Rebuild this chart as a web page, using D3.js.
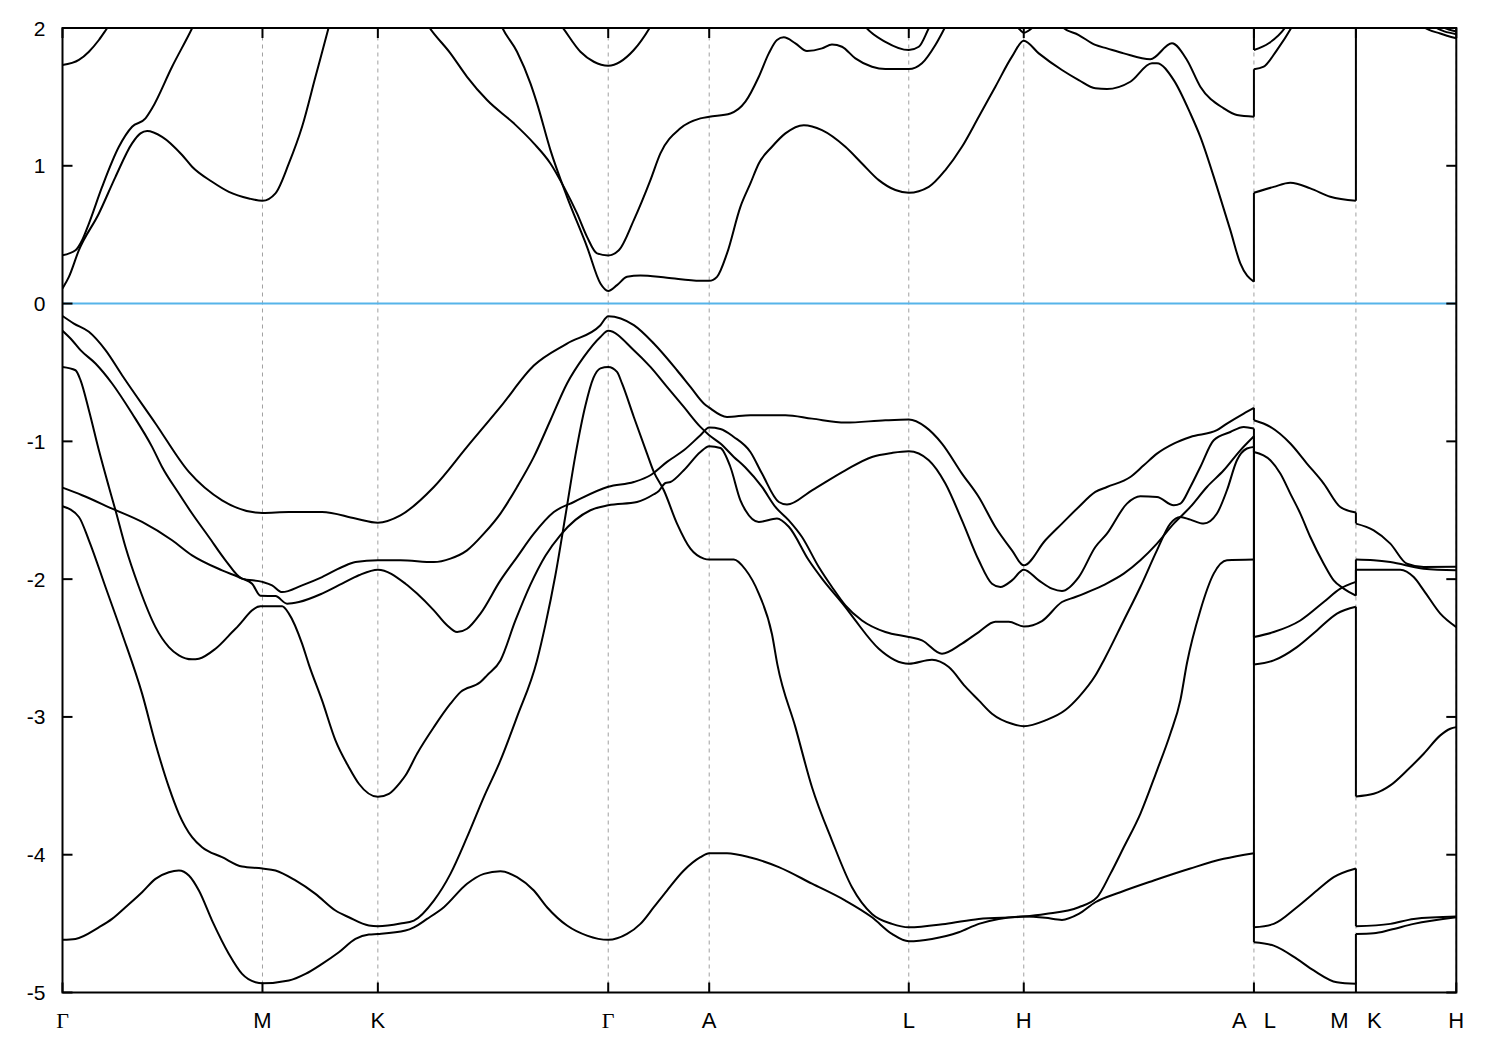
<!DOCTYPE html>
<html>
<head>
<meta charset="utf-8">
<script src="https://cdn.jsdelivr.net/npm/d3@7/dist/d3.min.js"></script>
<style>
  html, body { margin: 0; padding: 0; background: #fff; }
  svg { display: block; }
</style>
</head>
<body>
<script>
// ---------- DATA ----------
// high-symmetry k positions along the path and their labels
const kTicks  = [0, 1.0, 1.577, 2.729, 3.234, 4.232, 4.807, 5.958, 6.468, 6.97];
const kLabels = ["Γ", "M", "K", "Γ", "A", "L", "H", "A   L", "M   K", "H"];
const eTicks  = [-5, -4, -3, -2, -1, 0, 1, 2];
const fermiLevel = 0;

// bands: [k, E(eV)]; repeated k marks a path discontinuity (A|L, M|K)
const band1 = [[0,-0.09],[0.057,-0.145],[0.132,-0.205],[0.215,-0.338],[0.298,-0.52],[0.465,-0.87],[0.632,-1.222],[0.798,-1.428],[0.965,-1.517],[1.0,-1.52],[1.132,-1.513],[1.298,-1.513],[1.465,-1.56],[1.577,-1.59],[1.69,-1.537],[1.857,-1.331],[2.023,-1.04],[2.19,-0.75],[2.357,-0.45],[2.523,-0.29],[2.69,-0.157],[2.729,-0.092],
  [2.857,-0.157],[2.957,-0.29],[3.073,-0.484],[3.14,-0.605],[3.207,-0.725],[3.234,-0.755],[3.323,-0.823],[3.44,-0.81],[3.615,-0.81],[3.748,-0.835],[3.915,-0.864],[4.115,-0.847],[4.232,-0.842],[4.315,-0.895],[4.398,-1.016],[4.498,-1.234],[4.582,-1.404],[4.665,-1.622],[4.748,-1.791],[4.807,-1.90],[4.915,-1.718],[4.998,-1.597],[5.082,-1.476],[5.165,-1.367],[5.223,-1.331],[5.34,-1.259],[5.407,-1.174],[5.473,-1.089],[5.557,-1.016],[5.64,-0.968],[5.773,-0.919],[5.823,-0.871],[5.907,-0.798],[5.958,-0.757],
  [5.958,-0.847],[6.04,-0.895],[6.14,-1.016],[6.223,-1.161],[6.307,-1.306],[6.39,-1.476],[6.468,-1.517],
  [6.468,-1.597],[6.557,-1.646],[6.64,-1.742],[6.723,-1.888],[6.807,-1.912],[6.97,-1.91]];

const band2 = [[0,-0.198],[0.048,-0.266],[0.09,-0.338],[0.165,-0.435],[0.248,-0.58],[0.348,-0.798],[0.448,-1.04],[0.498,-1.186],[0.582,-1.379],[0.648,-1.524],[0.732,-1.694],[0.815,-1.863],[0.898,-1.996],[1.0,-2.02],[1.048,-2.045],[1.098,-2.094],[1.198,-2.045],[1.298,-1.985],[1.398,-1.912],[1.465,-1.876],[1.577,-1.863],[1.69,-1.863],[1.857,-1.876],[1.94,-1.851],[2.023,-1.791],[2.107,-1.67],[2.19,-1.524],[2.273,-1.331],[2.357,-1.113],[2.44,-0.847],[2.523,-0.58],[2.607,-0.387],[2.69,-0.242],[2.729,-0.198],
  [2.857,-0.338],[2.94,-0.46],[3.023,-0.605],[3.107,-0.75],[3.19,-0.895],[3.234,-0.955],[3.29,-1.016],[3.357,-1.113],[3.415,-1.19],[3.498,-1.331],[3.565,-1.476],[3.632,-1.573],[3.698,-1.694],[3.782,-1.912],[3.848,-2.057],[3.915,-2.19],[3.998,-2.30],[4.115,-2.384],[4.232,-2.42],[4.298,-2.444],[4.398,-2.541],[4.498,-2.468],[4.582,-2.384],[4.665,-2.31],[4.732,-2.31],[4.807,-2.343],[4.898,-2.304],[4.998,-2.166],[5.065,-2.13],[5.165,-2.07],[5.223,-2.03],[5.307,-1.96],[5.39,-1.863],[5.473,-1.742],[5.557,-1.597],[5.64,-1.476],[5.723,-1.331],[5.807,-1.21],[5.89,-1.065],[5.958,-0.963],
  [5.958,-2.42],[6.057,-2.384],[6.19,-2.30],[6.307,-2.166],[6.39,-2.069],[6.468,-2.02],
  [6.468,-1.858],[6.557,-1.863],[6.64,-1.876],[6.807,-1.924],[6.97,-1.936]];

const band3 = [[0,-1.336],[0.098,-1.391],[0.248,-1.488],[0.398,-1.585],[0.548,-1.718],[0.648,-1.827],[0.798,-1.936],[0.898,-1.996],[0.948,-2.033],[0.99,-2.12],[1.065,-2.123],[1.123,-2.178],[1.182,-2.166],[1.298,-2.105],[1.398,-2.033],[1.482,-1.972],[1.577,-1.931],[1.715,-2.033],[1.773,-2.105],[1.857,-2.227],[1.923,-2.335],[1.973,-2.384],[2.023,-2.36],[2.09,-2.25],[2.19,-2.009],[2.273,-1.84],[2.357,-1.67],[2.457,-1.513],[2.557,-1.44],[2.729,-1.33],
  [2.857,-1.295],[2.94,-1.246],[3.023,-1.149],[3.107,-1.065],[3.19,-0.956],[3.234,-0.90],[3.29,-0.91],[3.357,-0.968],[3.44,-1.077],[3.498,-1.234],[3.582,-1.44],[3.623,-1.459],[3.748,-1.355],[3.915,-1.21],[4.048,-1.113],[4.148,-1.084],[4.232,-1.072],[4.332,-1.137],[4.415,-1.306],[4.498,-1.573],[4.582,-1.863],[4.648,-2.033],[4.69,-2.057],[4.748,-2.009],[4.807,-1.931],[4.882,-2.009],[4.948,-2.069],[4.998,-2.086],[5.082,-1.985],[5.165,-1.767],[5.223,-1.67],[5.323,-1.452],[5.39,-1.399],[5.473,-1.404],[5.557,-1.464],[5.59,-1.452],[5.64,-1.331],[5.69,-1.186],[5.757,-0.992],[5.84,-0.932],[5.907,-0.895],[5.958,-0.907],
  [5.958,-1.077],[6.04,-1.137],[6.09,-1.234],[6.14,-1.379],[6.19,-1.524],[6.24,-1.694],[6.307,-1.888],[6.357,-2.009],[6.407,-2.069],[6.468,-2.12],
  [6.468,-1.931],[6.557,-1.931],[6.69,-1.931],[6.757,-1.985],[6.807,-2.081],[6.89,-2.25],[6.97,-2.348]];

const band4 = [[0,-0.46],[0.065,-0.484],[0.09,-0.556],[0.132,-0.774],[0.182,-1.065],[0.232,-1.331],[0.265,-1.50],[0.315,-1.767],[0.382,-2.057],[0.465,-2.348],[0.532,-2.493],[0.582,-2.553],[0.648,-2.582],[0.682,-2.577],[0.765,-2.505],[0.865,-2.36],[0.99,-2.197],[1.098,-2.197],[1.132,-2.25],[1.198,-2.468],[1.232,-2.62],[1.298,-2.88],[1.365,-3.17],[1.432,-3.365],[1.482,-3.485],[1.577,-3.58],[1.632,-3.558],[1.69,-3.473],[1.715,-3.425],[1.773,-3.267],[1.857,-3.074],[1.94,-2.904],[1.99,-2.82],[2.09,-2.747],[2.123,-2.698],[2.19,-2.59],[2.265,-2.30],[2.34,-2.04],[2.415,-1.83],[2.49,-1.68],[2.565,-1.57],[2.64,-1.50],[2.729,-1.464],
  [2.873,-1.44],[2.957,-1.384],[2.982,-1.36],[3.015,-1.302],[3.04,-1.295],[3.107,-1.21],[3.19,-1.077],[3.234,-1.035],[3.29,-1.048],[3.34,-1.186],[3.39,-1.428],[3.415,-1.50],[3.482,-1.585],[3.573,-1.56],[3.632,-1.62],[3.732,-1.863],[3.798,-1.996],[3.915,-2.203],[3.965,-2.30],[4.082,-2.505],[4.232,-2.614],[4.348,-2.585],[4.432,-2.638],[4.515,-2.78],[4.582,-2.88],[4.648,-2.977],[4.748,-3.05],[4.807,-3.067],[4.915,-3.025],[5.015,-2.95],[5.082,-2.856],[5.165,-2.70],[5.207,-2.59],[5.307,-2.30],[5.39,-2.057],[5.473,-1.791],[5.54,-1.597],[5.59,-1.549],[5.64,-1.568],[5.707,-1.597],[5.773,-1.524],[5.823,-1.355],[5.873,-1.137],[5.923,-1.052],[5.958,-1.04],
  [5.958,-2.62],[6.057,-2.59],[6.173,-2.493],[6.273,-2.372],[6.373,-2.25],[6.468,-2.20],
  [6.468,-3.577],[6.557,-3.558],[6.64,-3.497],[6.723,-3.389],[6.807,-3.267],[6.89,-3.134],[6.94,-3.086],[6.97,-3.074]];

const band5 = [[0,-1.471],[0.082,-1.549],[0.132,-1.718],[0.215,-2.057],[0.298,-2.396],[0.398,-2.831],[0.465,-3.194],[0.532,-3.51],[0.582,-3.703],[0.648,-3.873],[0.698,-3.946],[0.798,-4.018],[0.898,-4.086],[1.0,-4.10],[1.065,-4.115],[1.165,-4.187],[1.265,-4.284],[1.365,-4.405],[1.432,-4.454],[1.532,-4.514],[1.577,-4.519],[1.69,-4.50],[1.757,-4.478],[1.857,-4.333],[1.94,-4.139],[2.023,-3.873],[2.107,-3.582],[2.19,-3.316],[2.273,-3.0],[2.373,-2.59],[2.415,-2.33],[2.465,-1.97],[2.515,-1.54],[2.565,-1.10],[2.615,-0.74],[2.655,-0.54],[2.69,-0.47],[2.729,-0.46],
  [2.773,-0.496],[2.798,-0.58],[2.857,-0.823],[2.923,-1.089],[2.957,-1.222],[3.007,-1.355],[3.073,-1.597],[3.14,-1.779],[3.207,-1.851],[3.234,-1.858],[3.357,-1.858],[3.415,-1.93],[3.482,-2.105],[3.548,-2.40],[3.575,-2.62],[3.665,-3.074],[3.748,-3.51],[3.848,-3.897],[3.948,-4.236],[4.048,-4.43],[4.148,-4.502],[4.232,-4.527],[4.415,-4.502],[4.582,-4.466],[4.807,-4.449],[4.915,-4.43],[5.082,-4.381],[5.173,-4.31],[5.24,-4.139],[5.307,-3.946],[5.39,-3.703],[5.473,-3.389],[5.54,-3.122],[5.59,-2.88],[5.623,-2.61],[5.69,-2.227],[5.757,-1.96],[5.823,-1.863],[5.958,-1.858],
  [5.958,-4.527],[6.057,-4.502],[6.173,-4.381],[6.273,-4.26],[6.357,-4.163],[6.468,-4.10],
  [6.468,-4.52],[6.64,-4.502],[6.757,-4.466],[6.97,-4.449]];

const band6 = [[0,-4.618],[0.065,-4.611],[0.182,-4.527],[0.248,-4.466],[0.315,-4.381],[0.398,-4.272],[0.465,-4.175],[0.532,-4.127],[0.582,-4.115],[0.632,-4.151],[0.682,-4.26],[0.748,-4.478],[0.832,-4.72],[0.898,-4.865],[0.965,-4.926],[1.0,-4.933],[1.132,-4.913],[1.215,-4.865],[1.298,-4.792],[1.382,-4.708],[1.465,-4.611],[1.532,-4.579],[1.577,-4.575],[1.715,-4.55],[1.757,-4.527],[1.823,-4.466],[1.907,-4.381],[2.023,-4.211],[2.107,-4.139],[2.19,-4.12],[2.273,-4.163],[2.357,-4.26],[2.423,-4.381],[2.523,-4.514],[2.623,-4.587],[2.729,-4.618],
  [2.823,-4.575],[2.89,-4.502],[2.957,-4.381],[3.023,-4.26],[3.107,-4.115],[3.19,-4.018],[3.234,-3.989],[3.323,-3.989],[3.44,-4.02],[3.582,-4.09],[3.748,-4.21],[3.915,-4.333],[4.048,-4.454],[4.148,-4.575],[4.232,-4.628],[4.348,-4.611],[4.482,-4.563],[4.582,-4.502],[4.682,-4.466],[4.807,-4.449],[4.915,-4.458],[4.998,-4.473],[5.082,-4.43],[5.165,-4.345],[5.29,-4.272],[5.457,-4.187],[5.64,-4.10],[5.807,-4.03],[5.958,-3.989],
  [5.958,-4.635],[6.057,-4.66],[6.173,-4.756],[6.257,-4.84],[6.373,-4.926],[6.468,-4.937],
  [6.468,-4.575],[6.557,-4.57],[6.64,-4.545],[6.757,-4.502],[6.97,-4.454]];

const band7 = [[0,0.11],[0.032,0.194],[0.082,0.388],[0.182,0.654],[0.265,0.92],[0.348,1.163],[0.39,1.235],[0.423,1.252],[0.498,1.21],[0.598,1.078],[0.648,0.993],[0.748,0.884],[0.832,0.811],[0.932,0.763],[1.0,0.746],[1.065,0.80],[1.132,1.017],[1.198,1.283],[1.265,1.646],[1.332,2.009],[1.40,2.4],[1.577,2.9],[1.9,2.8],[2.1,2.4],[2.2,2.0],[2.273,1.828],[2.34,1.598],[2.373,1.453],[2.44,1.114],[2.523,0.775],[2.623,0.412],[2.69,0.146],[2.729,0.092],
  [2.773,0.134],[2.823,0.194],[2.89,0.204],[3.023,0.187],[3.19,0.165],[3.234,0.165],[3.273,0.194],[3.323,0.364],[3.39,0.702],[3.44,0.872],[3.482,1.017],[3.548,1.138],[3.615,1.235],[3.707,1.295],[3.798,1.259],[3.915,1.138],[3.998,1.017],[4.082,0.896],[4.165,0.824],[4.232,0.804],[4.332,0.847],[4.415,0.969],[4.498,1.138],[4.582,1.356],[4.665,1.574],[4.748,1.792],[4.807,1.908],[4.882,1.816],[4.998,1.695],[5.082,1.622],[5.165,1.562],[5.223,1.557],[5.34,1.61],[5.448,1.744],[5.473,1.744],[5.557,1.622],[5.64,1.38],[5.69,1.21],[5.773,0.847],[5.84,0.533],[5.89,0.291],[5.958,0.158],
  [5.958,0.804],[6.057,0.847],[6.14,0.876],[6.24,0.836],[6.34,0.775],[6.468,0.746],
  [6.468,2.9],[6.7,2.3],[6.807,2.009],[6.89,1.96],[6.97,1.925]];

const band8 = [[0,0.351],[0.065,0.387],[0.098,0.46],[0.132,0.581],[0.198,0.847],[0.282,1.138],[0.348,1.283],[0.415,1.344],[0.448,1.417],[0.548,1.719],[0.648,1.998],[0.8,2.5],[1.2,3.0],[1.6,2.7],[1.832,2.009],[1.94,1.816],[2.023,1.646],[2.123,1.477],[2.257,1.308],[2.357,1.163],[2.44,1.017],[2.507,0.847],[2.573,0.654],[2.623,0.484],[2.673,0.364],[2.729,0.349],
  [2.782,0.387],[2.857,0.606],[2.94,0.896],[2.99,1.09],[3.09,1.272],[3.19,1.344],[3.234,1.356],[3.34,1.38],[3.415,1.465],[3.482,1.646],[3.532,1.816],[3.573,1.913],[3.607,1.932],[3.665,1.889],[3.723,1.833],[3.798,1.852],[3.848,1.881],[3.898,1.864],[3.965,1.78],[4.048,1.719],[4.115,1.702],[4.232,1.702],[4.298,1.744],[4.365,1.877],[4.415,2.009],[4.6,2.5],[4.807,2.7],[4.9,2.4],[4.998,2.009],[5.082,1.949],[5.165,1.877],[5.223,1.852],[5.307,1.816],[5.44,1.773],[5.548,1.889],[5.623,1.768],[5.69,1.574],[5.807,1.417],[5.873,1.368],[5.958,1.356],
  [5.958,1.70],[6.007,1.719],[6.073,1.84],[6.148,2.009],[6.3,2.5],[6.468,2.8],
  [6.468,2.8],[6.7,2.3],[6.85,2.02],[6.97,1.955]];

const band9 = [[0,1.731],[0.082,1.768],[0.132,1.828],[0.182,1.913],[0.223,1.998],[0.5,2.6],[1.0,3.0],[1.577,3.0],[2.1,2.6],[2.498,2.009],[2.59,1.828],[2.657,1.755],[2.729,1.726],
  [2.857,1.84],[2.94,2.009],[3.1,2.5],[3.234,2.6],[3.7,2.6],[3.9,2.3],[4.015,2.009],[4.115,1.90],[4.232,1.84],[4.282,1.864],[4.332,1.998],[4.5,2.5],[4.65,2.3],[4.78,2.0],[4.807,1.965],[4.85,2.0],[5.1,2.5],[5.5,2.9],[5.958,3.0],
  [5.958,1.84],[6.032,1.889],[6.115,2.005],[6.3,2.7],[6.468,3.0],
  [6.468,3.0],[6.75,2.3],[6.9,2.01],[6.97,1.975]];

const bands = [band1, band2, band3, band4, band5, band6, band7, band8, band9];

// ---------- CHART ----------
const W = 1500, H = 1050;
const x = d3.scaleLinear().domain([0, 6.97]).range([62.5, 1456.3]);
const y = d3.scaleLinear().domain([-5, 2]).range([992.5, 28]);
const [x0, x1] = x.range();
const [yb, yt] = y.range();

const svg = d3.select("body").append("svg").attr("width", W).attr("height", H);

svg.append("defs").append("clipPath").attr("id", "plotclip")
  .append("rect").attr("x", x0).attr("y", yt).attr("width", x1 - x0).attr("height", yb - yt);

// dashed vertical lines at high-symmetry points
svg.append("g").selectAll("line").data(kTicks).join("line")
  .attr("x1", d => x(d)).attr("x2", d => x(d))
  .attr("y1", yb).attr("y2", yt)
  .attr("stroke", "#a0a0a0").attr("stroke-width", 1).attr("stroke-dasharray", "4,4");

// Fermi level
svg.append("line")
  .attr("x1", x0).attr("x2", x1).attr("y1", y(fermiLevel)).attr("y2", y(fermiLevel))
  .attr("stroke", "#56b4e9").attr("stroke-width", 2);

// bands
const smooth = d3.line().x(d => x(d[0])).y(d => y(d[1])).curve(d3.curveMonotoneX);
const straight = d3.line().x(d => x(d[0])).y(d => y(d[1]));
const gB = svg.append("g").attr("clip-path", "url(#plotclip)")
  .attr("fill", "none").attr("stroke", "#000").attr("stroke-width", 2).attr("stroke-linejoin", "round");

bands.forEach(b => {
  const runs = [];
  let cur = [b[0]];
  for (let i = 1; i < b.length; i++) {
    if (b[i][0] === b[i - 1][0]) { runs.push(cur); cur = [b[i]]; }
    else cur.push(b[i]);
  }
  runs.push(cur);
  runs.forEach((r, i) => {
    gB.append("path").attr("d", smooth(r));
    if (i > 0) {
      const prev = runs[i - 1];
      gB.append("path").attr("d", straight([prev[prev.length - 1], r[0]]));
    }
  });
});

// border
svg.append("rect").attr("x", x0).attr("y", yt).attr("width", x1 - x0).attr("height", yb - yt)
  .attr("fill", "none").attr("stroke", "#000").attr("stroke-width", 2);

// y ticks (inward, both sides)
const tg = svg.append("g").attr("stroke", "#000").attr("stroke-width", 2);
eTicks.forEach(e => {
  tg.append("line").attr("x1", x0).attr("x2", x0 + 10).attr("y1", y(e)).attr("y2", y(e));
  tg.append("line").attr("x1", x1).attr("x2", x1 - 10).attr("y1", y(e)).attr("y2", y(e));
});
// x ticks (inward, top and bottom)
kTicks.forEach(k => {
  tg.append("line").attr("x1", x(k)).attr("x2", x(k)).attr("y1", yb).attr("y2", yb - 10);
  tg.append("line").attr("x1", x(k)).attr("x2", x(k)).attr("y1", yt).attr("y2", yt + 10);
});

// y tick labels
svg.append("g").selectAll("text").data(eTicks).join("text")
  .attr("x", x0 - 17).attr("y", d => y(d)).attr("dy", "0.36em")
  .attr("text-anchor", "end")
  .attr("font-family", "Liberation Sans, Arial, sans-serif").attr("font-size", 21)
  .text(d => String(d));

// x tick labels
svg.append("g").selectAll("text").data(kTicks).join("text")
  .attr("x", d => x(d)).attr("y", 1028)
  .attr("text-anchor", "middle")
  .attr("font-family", (d, i) => kLabels[i] === "Γ" ? "Liberation Serif, DejaVu Serif, serif" : "Liberation Sans, Arial, sans-serif")
  .attr("font-size", 22)
  .style("white-space", "pre")
  .text((d, i) => kLabels[i]);
</script>
</body>
</html>
